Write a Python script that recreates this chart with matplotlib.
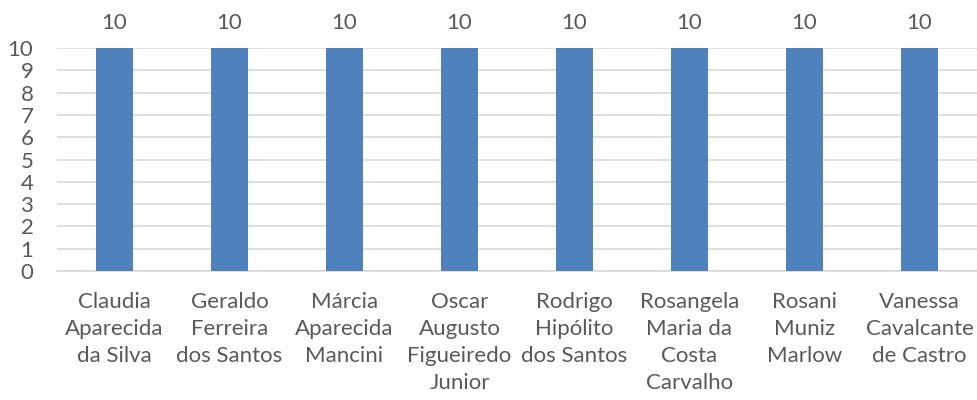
import matplotlib.pyplot as plt
import numpy as np

plt.rcParams['font.family'] = ['Lato', 'DejaVu Sans']

# dados
nomes = ['Claudia\nAparecida\nda Silva', 'Geraldo\nFerreira\ndos Santos',
         'Márcia\nAparecida\nMancini', 'Oscar\nAugusto\nFigueiredo\nJunior',
         'Rodrigo\nHipólito\ndos Santos', 'Rosangela\nMaria da\nCosta\nCarvalho',
         'Rosani\nMuniz\nMarlow', 'Vanessa\nCavalcante\nde Castro']
valores = [10, 10, 10, 10, 10, 10, 10, 10]
yticks = list(range(0, 11))

cor_barra = '#4F81BD'
cor_texto = '#595959'
cor_grade = '#D9D9D9'

fig = plt.figure(figsize=(9.77, 4.0), dpi=100)
ax = fig.add_axes([57 / 977, 129 / 400, 920 / 977, 223 / 400])

x = np.arange(len(nomes))
barras = ax.bar(x, valores, width=0.32, color=cor_barra, zorder=3)

# rótulos de dados
for xi, v in zip(x, valores):
    ax.annotate(str(v), (xi, v), xytext=(0, 11), textcoords='offset points',
                ha='center', va='bottom', fontsize=16, color=cor_texto)

ax.set_xlim(-0.5, len(nomes) - 0.5)
ax.set_ylim(0, 10)
ax.set_yticks(yticks)
ax.set_yticklabels([str(t) for t in yticks])
ax.set_xticks(x)
ax.set_xticklabels(nomes, linespacing=1.45)

ax.tick_params(axis='y', length=0, pad=17, labelsize=16, labelcolor=cor_texto)
ax.tick_params(axis='x', length=0, pad=15, labelsize=16, labelcolor=cor_texto)

ax.yaxis.grid(True, color=cor_grade, linewidth=1.2, zorder=0)
for s in ['top', 'right', 'left']:
    ax.spines[s].set_visible(False)
ax.spines['bottom'].set_color(cor_grade)
ax.spines['bottom'].set_linewidth(1.2)

fig.savefig('out.png', dpi=100)
